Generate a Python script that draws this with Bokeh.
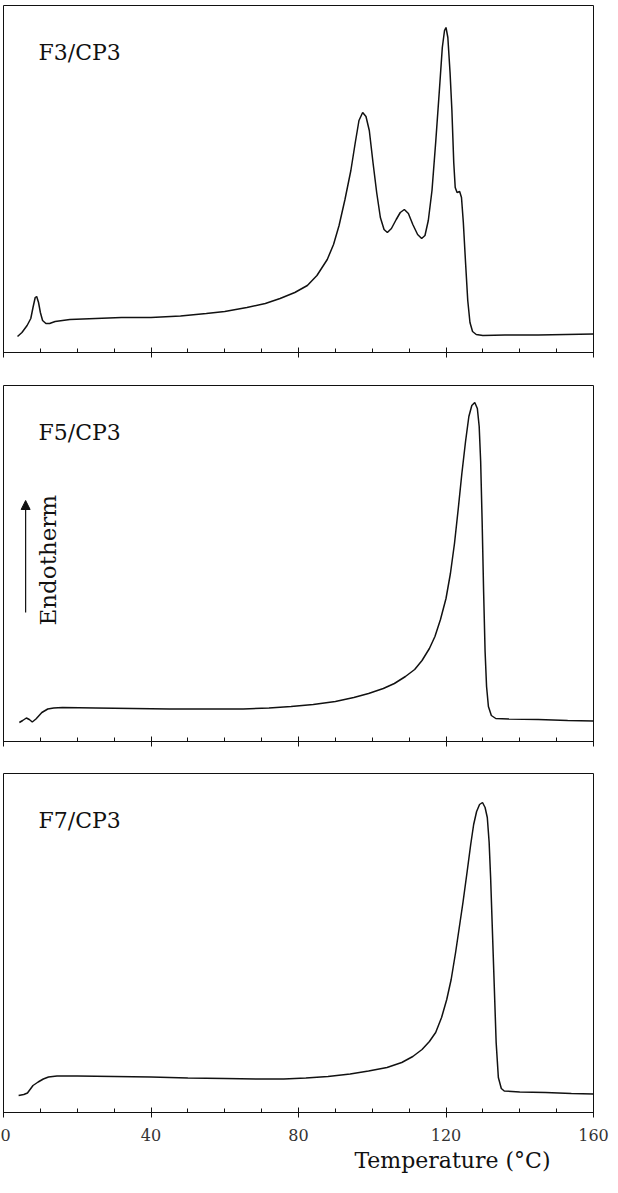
import math
from bokeh.plotting import figure
from bokeh.layouts import column
from bokeh.models import (Range1d, FixedTicker, Label, Arrow, NormalHead, Title,
                          CustomLabelingPolicy)
from bokeh.embed import file_html
from bokeh.resources import INLINE

# ---------------- data (heat flow in arbitrary units) ----------------
f3_temp = [3.8, 5.0, 6.4, 7.4, 8.0, 8.6, 9.0, 9.5, 10.0, 10.6, 11.5, 12.5, 14, 18, 25, 32, 40, 48, 55,
           60, 66, 71, 75, 79, 82.4, 85, 87.8, 89.5, 91, 92.6, 94.2, 95.4, 96.4, 97.4, 98.3, 99.2,
           100.2, 101.2, 102.2, 103.2, 104.1, 105.2, 106.5, 107.6, 108.7, 109.8, 111, 112.3, 113.4,
           114.3, 115.2, 116.2, 117.2, 118.2, 119.0, 119.6, 120.0, 120.5, 121.1, 121.6, 122.1, 122.5,
           123.0, 123.7, 124.2, 124.7, 125.3, 125.9, 126.5, 127.2, 128.2, 130, 136, 145, 160]
f3_heat = [16, 20, 27, 34, 45, 55, 56, 50, 40, 32, 29, 29, 31, 33, 34, 35, 35, 36.5, 39,
           41, 45, 49, 54, 60, 67, 77, 93, 108, 127, 153, 182, 210, 232, 240, 236, 222,
           190, 160, 135, 123, 120, 124, 133, 140, 143, 139, 128, 118, 114,
           117, 132, 162, 210, 262, 305, 322, 325, 315, 280, 242, 190, 165,
           160, 161, 155, 130, 90, 52, 30, 21, 18, 17, 17.5, 17.5, 18.5]

f5_temp = [4.3, 5.2, 6.2, 7.0, 7.8, 8.8, 10.4, 12, 13.6, 16, 25, 35, 45, 55, 65, 72, 78, 84, 90, 95,
           99, 103, 106, 109, 111.5, 113.5, 115.5, 117, 118.5, 120, 121.2, 122.3, 123.3, 124.3,
           125.3, 126.2, 127, 127.8, 128.5, 129.0, 129.4, 129.8, 130.2, 130.6, 131.0, 131.5, 132.3,
           133.5, 137, 145, 153, 160]
f5_heat = [19, 21, 23.5, 22, 19.5, 22.5, 29, 32.5, 33.5, 34, 33.5, 33, 32.5, 32.5, 32.5, 33.5, 35, 37,
           40, 44, 48, 53, 58, 65, 72, 81, 93, 105, 122, 143, 168, 198, 232, 268,
           300, 325, 336, 339, 333, 315, 280, 220, 150, 90, 55, 35, 26,
           23, 22.5, 22, 21, 20.5]

f7_temp = [4.1, 5.5, 6.5, 7.2, 8.0, 9.4, 10.8, 12.2, 14.5, 20, 30, 40, 50, 60, 70, 76, 82, 88, 94, 99,
           104, 108, 111, 113.5, 115.5, 117.2, 118.8, 120.2, 121.4, 122.6, 123.6, 124.6, 125.7,
           126.7, 127.5, 128.3, 129.1, 129.9, 130.6, 131.2, 131.7, 132.1, 132.6, 133.1, 133.6,
           134.2, 135.0, 135.8, 140, 147, 154, 160]
f7_heat = [17, 18, 19.5, 23, 27, 30.5, 33.5, 35.5, 36.5, 36.5, 36, 35.5, 34.5, 34, 33.5, 33.5, 34.5,
           36, 38.5, 41.5, 45, 50, 56, 63, 71, 80, 95, 113, 133, 160, 185, 210, 240,
           268, 288, 301, 308, 310, 305, 295, 270, 235, 180, 125, 70,
           35, 24, 21.5, 20.5, 20, 19, 18.5]

panel_names = ["F3/CP3", "F5/CP3", "F7/CP3"]
major_ticks = [0, 40, 80, 120, 160]
minor_ticks = [10, 20, 30, 50, 60, 70, 90, 100, 110, 130, 140, 150]
x_title = "Temperature (°C)"
y_title = "Endotherm"

SERIF = "DejaVu Serif"
FIG_W = 610
B_LEFT, B_RIGHT = 3, 17

HIDE_LABELS = CustomLabelingPolicy(code="""
for (const i of indices)
  indices.unset(i)
""")


def make_panel(temp, heat, name, frame_h, top, bottom, bottom_labels):
    p = figure(width=FIG_W, height=top + frame_h + bottom,
               output_backend="svg", toolbar_location=None,
               x_range=Range1d(0, 160), y_range=Range1d(0, frame_h),
               y_axis_location=None,
               min_border_left=B_LEFT, min_border_right=B_RIGHT,
               min_border_top=top, min_border_bottom=bottom)
    p.grid.visible = False
    p.outline_line_color = "#111111"
    p.outline_line_width = 1
    p.background_fill_color = "white"
    p.border_fill_color = "white"

    ax = p.xaxis[0]
    ax.ticker = FixedTicker(ticks=major_ticks, minor_ticks=minor_ticks)
    ax.axis_line_color = "#111111"
    ax.major_tick_line_color = "#111111"
    ax.minor_tick_line_color = "#111111"
    ax.major_tick_in = 5
    ax.major_tick_out = 5
    ax.minor_tick_in = 4
    ax.minor_tick_out = 0
    if bottom_labels:
        ax.major_label_text_font = SERIF
        ax.major_label_text_font_size = "16px"
        ax.major_label_text_color = "#333333"
        ax.major_label_standoff = 11
    else:
        ax.major_label_policy = HIDE_LABELS
        ax.major_label_standoff = 0

    p.line(temp, heat, line_color="#111111", line_width=1.5)

    p.add_layout(Label(x=9.5, y=frame_h - 47, text=name,
                       text_font=SERIF, text_font_size="22px",
                       text_color="#111111", text_align="left",
                       text_baseline="middle"))
    return p


p1 = make_panel(f3_temp, f3_heat, panel_names[0], 347, 5, 28, False)
p2 = make_panel(f5_temp, f5_heat, panel_names[1], 356, 5, 27, False)
p3 = make_panel(f7_temp, f7_heat, panel_names[2], 339, 5, 65, True)

# Endotherm arrow and label in the middle panel
p2.add_layout(Arrow(end=NormalHead(size=9, fill_color="#111111", line_color="#111111"),
                    x_start=6.0, y_start=129, x_end=6.0, y_end=241,
                    line_color="#111111", line_width=1.2))
p2.add_layout(Label(x=12.2, y=116, text=y_title, angle=math.pi / 2,
                    text_font=SERIF, text_font_size="23px",
                    text_color="#111111", text_align="left",
                    text_baseline="middle"))

# x-axis title, right part of the bottom panel
p3.add_layout(Title(text=x_title, align="right", offset=43,
                    text_font=SERIF, text_font_size="22px",
                    text_font_style="normal", text_color="#111111",
                    standoff=4), "below")

layout = column(p1, p2, p3, spacing=0)

open("out.html", "w").write(file_html(layout, INLINE))
